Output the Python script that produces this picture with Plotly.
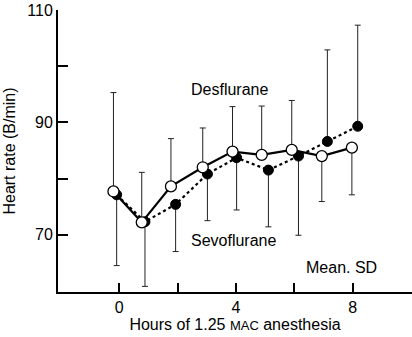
import plotly.graph_objects as go

# Desflurane (open circles, solid line)
des_x = [-0.2, 0.77, 1.77, 2.86, 3.88, 4.88, 5.91, 6.94, 7.97]
des_mean = [77.7, 72.2, 78.6, 82.0, 84.8, 84.2, 85.1, 84.0, 85.5]
des_sd_up = [17.6, 8.9, 8.5, 7.0, 8.0, 8.7, 8.8, 0, 0]
des_sd_down = [0, 0, 0, 0, 0, 0, 0, 8.1, 8.4]

# Sevoflurane (filled circles, dotted line)
sev_x = [-0.09, 0.88, 1.93, 3.02, 4.02, 5.11, 6.14, 7.13, 8.17]
sev_mean = [77.1, 72.3, 75.4, 80.8, 83.7, 81.5, 84.0, 86.6, 89.3]
sev_sd_up = [0, 0, 0, 0, 0, 0, 0, 16.3, 18.0]
sev_sd_down = [12.6, 11.5, 8.4, 8.3, 9.3, 10.1, 14.1, 0, 0]

x_tickvals = [0, 2, 4, 6, 8, 10]
x_ticktext = ["0", "", "4", "", "8", ""]
y_tickvals = [70, 80, 90, 100, 110]
y_ticktext = ["70", "", "90", "", "110"]

FONT = "Liberation Sans, Arial, sans-serif"

fig = go.Figure()

fig.add_trace(go.Scatter(
    x=sev_x, y=sev_mean, mode="lines+markers", name="Sevoflurane",
    line=dict(color="black", width=2.2, dash="dot"),
    marker=dict(symbol="circle", size=10, color="black", line=dict(color="black", width=1)),
    error_y=dict(type="data", symmetric=False, array=sev_sd_up, arrayminus=sev_sd_down,
                 color="#222222", thickness=1, width=3),
))

fig.add_trace(go.Scatter(
    x=des_x, y=des_mean, mode="lines+markers", name="Desflurane",
    line=dict(color="black", width=2.2),
    marker=dict(symbol="circle", size=11, color="white", line=dict(color="black", width=1.3)),
    error_y=dict(type="data", symmetric=False, array=des_sd_up, arrayminus=des_sd_down,
                 color="#222222", thickness=1, width=3),
))

fig.add_annotation(x=3.78, y=95.8, text="Desflurane", showarrow=False,
                   xanchor="center", yanchor="middle", font=dict(size=16, color="black"))
fig.add_annotation(x=3.9, y=68.9, text="Sevoflurane", showarrow=False,
                   xanchor="center", yanchor="middle", font=dict(size=16, color="black"))
fig.add_annotation(x=7.6, y=64.1, text="Mean. SD", showarrow=False,
                   xanchor="center", yanchor="middle", font=dict(size=16, color="black"))

fig.update_layout(
    width=412, height=337,
    margin=dict(l=58, r=0, t=10, b=45),
    paper_bgcolor="white", plot_bgcolor="white",
    showlegend=False,
    font=dict(family=FONT, size=16, color="black"),
    xaxis=dict(
        range=[-2.1, 10.03], tickvals=x_tickvals, ticktext=x_ticktext,
        ticks="inside", ticklen=9, tickwidth=1.5, tickcolor="black",
        showline=True, linecolor="black", linewidth=2, showgrid=False, zeroline=False,
        title=dict(text='Hours of 1.25 <span style="font-size:13px">MAC</span> anesthesia',
                   font=dict(size=16), standoff=0),
        tickfont=dict(size=16),
    ),
    yaxis=dict(
        range=[59.8, 110], tickvals=y_tickvals, ticktext=y_ticktext,
        ticks="inside", ticklen=10, tickwidth=1.5, tickcolor="black",
        showline=True, linecolor="black", linewidth=2, showgrid=False, zeroline=False,
        title=dict(text="Heart rate (B/min)", font=dict(size=16), standoff=8),
        tickfont=dict(size=16),
    ),
)

fig.write_html("out.html")
